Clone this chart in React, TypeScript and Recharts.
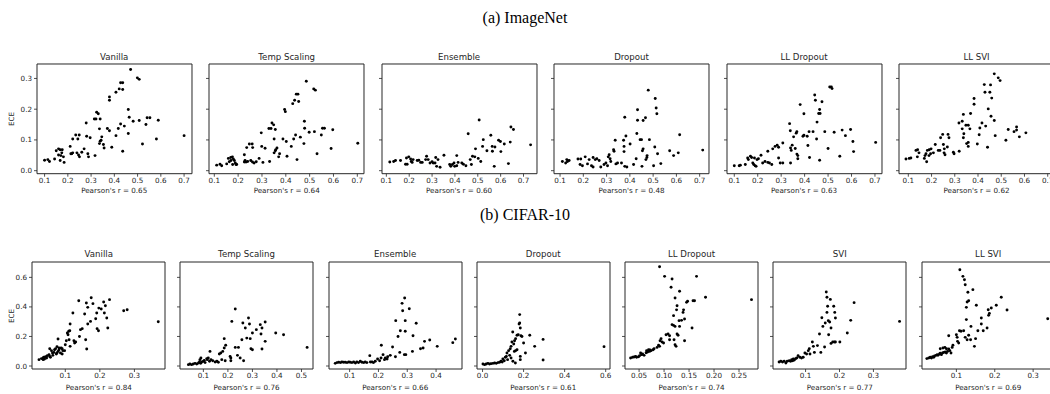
import React from 'react';
import { ScatterChart, Scatter, XAxis, YAxis, ReferenceArea } from 'recharts';

type Pt = [number, number];

// (a) ImageNet — [pearson of shift, ECE]
const imVanilla: Pt[] = [
  [0.1, 0.034], [0.114, 0.036], [0.121, 0.03], [0.143, 0.038], [0.15, 0.065], [0.16, 0.071], [0.167, 0.068],
  [0.176, 0.068], [0.16, 0.051], [0.17, 0.049], [0.174, 0.058], [0.181, 0.045], [0.184, 0.027], [0.167, 0.033],
  [0.21, 0.079], [0.213, 0.055], [0.217, 0.055], [0.221, 0.058], [0.221, 0.103], [0.234, 0.116], [0.249, 0.116],
  [0.243, 0.103], [0.239, 0.058], [0.246, 0.051], [0.25, 0.045], [0.26, 0.06], [0.27, 0.071], [0.279, 0.155],
  [0.281, 0.112], [0.286, 0.055], [0.289, 0.045], [0.296, 0.107], [0.314, 0.168], [0.321, 0.168], [0.317, 0.049],
  [0.324, 0.19], [0.331, 0.185], [0.336, 0.136], [0.339, 0.168], [0.336, 0.088], [0.339, 0.096], [0.343, 0.099],
  [0.346, 0.11], [0.353, 0.085], [0.356, 0.074], [0.37, 0.137], [0.379, 0.13], [0.379, 0.24], [0.379, 0.229],
  [0.389, 0.076], [0.407, 0.255], [0.407, 0.114], [0.417, 0.137], [0.421, 0.266], [0.427, 0.152], [0.427, 0.286],
  [0.436, 0.286], [0.436, 0.264], [0.436, 0.063], [0.443, 0.145], [0.46, 0.199], [0.46, 0.121], [0.464, 0.174],
  [0.47, 0.329], [0.481, 0.161], [0.499, 0.302], [0.507, 0.297], [0.507, 0.163], [0.521, 0.087], [0.536, 0.15],
  [0.541, 0.172], [0.553, 0.172], [0.581, 0.103], [0.589, 0.164], [0.7, 0.114],
];

const imTemp: Pt[] = [
  [0.11, 0.018], [0.124, 0.021], [0.131, 0.016], [0.152, 0.022], [0.159, 0.04], [0.169, 0.043], [0.176, 0.045],
  [0.163, 0.029], [0.17, 0.033], [0.18, 0.038], [0.184, 0.033], [0.188, 0.025], [0.191, 0.02], [0.194, 0.02],
  [0.177, 0.02], [0.226, 0.052], [0.226, 0.028], [0.233, 0.028], [0.24, 0.03], [0.229, 0.033], [0.236, 0.075],
  [0.247, 0.087], [0.259, 0.087], [0.261, 0.075], [0.253, 0.033], [0.26, 0.028], [0.267, 0.025], [0.276, 0.029],
  [0.288, 0.04], [0.297, 0.123], [0.299, 0.079], [0.304, 0.027], [0.313, 0.073], [0.329, 0.137], [0.338, 0.137],
  [0.332, 0.03], [0.342, 0.155], [0.349, 0.149], [0.356, 0.134], [0.351, 0.103], [0.351, 0.058], [0.356, 0.065],
  [0.358, 0.068], [0.363, 0.074], [0.37, 0.045], [0.374, 0.055], [0.388, 0.103], [0.395, 0.199], [0.398, 0.192],
  [0.402, 0.095], [0.405, 0.047], [0.423, 0.079], [0.429, 0.218], [0.433, 0.103], [0.437, 0.229], [0.441, 0.116],
  [0.444, 0.249], [0.451, 0.249], [0.447, 0.036], [0.454, 0.225], [0.461, 0.109], [0.476, 0.088], [0.478, 0.161],
  [0.479, 0.138], [0.486, 0.291], [0.498, 0.125], [0.517, 0.266], [0.524, 0.262], [0.52, 0.127], [0.531, 0.055],
  [0.549, 0.116], [0.554, 0.138], [0.562, 0.138], [0.59, 0.072], [0.597, 0.133], [0.702, 0.089],
];

const imEnsemble: Pt[] = [
  [0.115, 0.028], [0.132, 0.03], [0.14, 0.033], [0.162, 0.033], [0.184, 0.021], [0.191, 0.021], [0.188, 0.041],
  [0.198, 0.045], [0.206, 0.038], [0.209, 0.03], [0.213, 0.027], [0.217, 0.036], [0.235, 0.033], [0.242, 0.034],
  [0.25, 0.027], [0.257, 0.027], [0.272, 0.036], [0.276, 0.047], [0.283, 0.036], [0.291, 0.025], [0.3, 0.029],
  [0.305, 0.025], [0.313, 0.025], [0.316, 0.043], [0.326, 0.036], [0.32, 0.014], [0.335, 0.011], [0.352, 0.05],
  [0.377, 0.02], [0.382, 0.014], [0.389, 0.02], [0.396, 0.025], [0.399, 0.014], [0.408, 0.016], [0.408, 0.049],
  [0.414, 0.027], [0.43, 0.025], [0.437, 0.021], [0.448, 0.016], [0.458, 0.12], [0.467, 0.036], [0.472, 0.02],
  [0.477, 0.047], [0.487, 0.045], [0.49, 0.071], [0.502, 0.04], [0.506, 0.165], [0.513, 0.03], [0.521, 0.079],
  [0.524, 0.101], [0.54, 0.065], [0.557, 0.115], [0.563, 0.079], [0.575, 0.077], [0.564, 0.063], [0.572, 0.014],
  [0.591, 0.099], [0.599, 0.095], [0.601, 0.062], [0.616, 0.087], [0.634, 0.023], [0.642, 0.093], [0.645, 0.142],
  [0.656, 0.134], [0.731, 0.084],
];

const imDropout: Pt[] = [
  [0.11, 0.03], [0.124, 0.025], [0.132, 0.03], [0.139, 0.033], [0.129, 0.036], [0.177, 0.038], [0.189, 0.038],
  [0.186, 0.02], [0.196, 0.016], [0.208, 0.045], [0.218, 0.022], [0.225, 0.036], [0.235, 0.016], [0.242, 0.012],
  [0.242, 0.043], [0.251, 0.036], [0.258, 0.039], [0.268, 0.033], [0.275, 0.012], [0.289, 0.02], [0.297, 0.025],
  [0.304, 0.016], [0.307, 0.045], [0.311, 0.052], [0.315, 0.039], [0.318, 0.03], [0.33, 0.068], [0.332, 0.063],
  [0.34, 0.022], [0.347, 0.025], [0.337, 0.099], [0.364, 0.025], [0.373, 0.099], [0.375, 0.079], [0.375, 0.062],
  [0.378, 0.174], [0.383, 0.113], [0.378, 0.014], [0.387, 0.012], [0.401, 0.087], [0.416, 0.02], [0.427, 0.039],
  [0.43, 0.121], [0.433, 0.198], [0.433, 0.164], [0.444, 0.101], [0.45, 0.101], [0.452, 0.014], [0.454, 0.065],
  [0.457, 0.071], [0.457, 0.163], [0.467, 0.172], [0.469, 0.036], [0.473, 0.043], [0.474, 0.049], [0.479, 0.262],
  [0.484, 0.101], [0.502, 0.016], [0.507, 0.077], [0.509, 0.235], [0.513, 0.204], [0.516, 0.185], [0.519, 0.055],
  [0.533, 0.023], [0.571, 0.065], [0.588, 0.049], [0.608, 0.058], [0.614, 0.117], [0.713, 0.067],
];

const imLLDropout: Pt[] = [
  [0.1, 0.016], [0.121, 0.016], [0.126, 0.018], [0.147, 0.02], [0.157, 0.041], [0.16, 0.036], [0.169, 0.047],
  [0.174, 0.043], [0.186, 0.041], [0.179, 0.025], [0.183, 0.02], [0.189, 0.016], [0.193, 0.014], [0.197, 0.036],
  [0.203, 0.039], [0.214, 0.05], [0.221, 0.025], [0.231, 0.03], [0.243, 0.027], [0.25, 0.025], [0.26, 0.02],
  [0.243, 0.063], [0.264, 0.071], [0.274, 0.079], [0.283, 0.083], [0.289, 0.076], [0.289, 0.041], [0.296, 0.025],
  [0.307, 0.025], [0.307, 0.09], [0.336, 0.153], [0.339, 0.13], [0.34, 0.074], [0.343, 0.066], [0.34, 0.025],
  [0.347, 0.083], [0.353, 0.11], [0.36, 0.072], [0.364, 0.122], [0.367, 0.127], [0.367, 0.054], [0.371, 0.049],
  [0.371, 0.039], [0.381, 0.215], [0.393, 0.112], [0.397, 0.115], [0.397, 0.185], [0.411, 0.112], [0.414, 0.082],
  [0.419, 0.127], [0.436, 0.127], [0.421, 0.043], [0.443, 0.246], [0.446, 0.229], [0.451, 0.103], [0.453, 0.158],
  [0.46, 0.186], [0.464, 0.199], [0.466, 0.186], [0.464, 0.034], [0.474, 0.224], [0.486, 0.127], [0.5, 0.072],
  [0.507, 0.272], [0.514, 0.272], [0.517, 0.267], [0.526, 0.125], [0.55, 0.047], [0.56, 0.132], [0.574, 0.114],
  [0.596, 0.134], [0.606, 0.095], [0.609, 0.062], [0.703, 0.092],
];

const imLLSVI: Pt[] = [
  [0.09, 0.038], [0.104, 0.04], [0.111, 0.041], [0.133, 0.066], [0.14, 0.068], [0.146, 0.058], [0.139, 0.045],
  [0.169, 0.04], [0.172, 0.049], [0.176, 0.055], [0.182, 0.066], [0.19, 0.068], [0.198, 0.071], [0.179, 0.029],
  [0.189, 0.049], [0.196, 0.055], [0.208, 0.058], [0.216, 0.085], [0.229, 0.066], [0.236, 0.066], [0.239, 0.107],
  [0.248, 0.118], [0.251, 0.085], [0.255, 0.071], [0.254, 0.058], [0.258, 0.052], [0.268, 0.077], [0.271, 0.118],
  [0.275, 0.107], [0.294, 0.06], [0.297, 0.055], [0.319, 0.063], [0.318, 0.155], [0.332, 0.161], [0.337, 0.183],
  [0.332, 0.136], [0.339, 0.12], [0.337, 0.107], [0.351, 0.088], [0.358, 0.092], [0.358, 0.079], [0.348, 0.148],
  [0.358, 0.148], [0.365, 0.136], [0.368, 0.186], [0.383, 0.235], [0.383, 0.216], [0.397, 0.087], [0.405, 0.117],
  [0.408, 0.139], [0.417, 0.155], [0.427, 0.28], [0.43, 0.255], [0.433, 0.145], [0.441, 0.076], [0.444, 0.201],
  [0.451, 0.255], [0.454, 0.279], [0.456, 0.177], [0.459, 0.236], [0.47, 0.163], [0.474, 0.114], [0.47, 0.315],
  [0.487, 0.302], [0.495, 0.293], [0.52, 0.099], [0.53, 0.134], [0.555, 0.127], [0.566, 0.132], [0.566, 0.142],
  [0.578, 0.11], [0.606, 0.123], [0.72, 0.085],
];

// (b) CIFAR-10
const cfVanilla: Pt[] = [
  [0.024, 0.043], [0.031, 0.05], [0.036, 0.054], [0.038, 0.059], [0.043, 0.063], [0.046, 0.054], [0.036, 0.043],
  [0.04, 0.047], [0.048, 0.07], [0.053, 0.077], [0.055, 0.065], [0.057, 0.059], [0.055, 0.117], [0.06, 0.104],
  [0.063, 0.088], [0.064, 0.072], [0.067, 0.092], [0.069, 0.11], [0.072, 0.117], [0.074, 0.081], [0.076, 0.088],
  [0.079, 0.099], [0.082, 0.11], [0.076, 0.131], [0.082, 0.122], [0.079, 0.183], [0.086, 0.088], [0.088, 0.122],
  [0.091, 0.117], [0.093, 0.104], [0.091, 0.081], [0.098, 0.104], [0.1, 0.144], [0.103, 0.171], [0.106, 0.223],
  [0.108, 0.212], [0.11, 0.235], [0.113, 0.239], [0.111, 0.178], [0.114, 0.133], [0.114, 0.284], [0.122, 0.359],
  [0.125, 0.171], [0.127, 0.156], [0.13, 0.162], [0.139, 0.442], [0.141, 0.2], [0.144, 0.246], [0.149, 0.253],
  [0.156, 0.352], [0.159, 0.178], [0.161, 0.426], [0.162, 0.115], [0.165, 0.397], [0.165, 0.284], [0.173, 0.302],
  [0.175, 0.462], [0.18, 0.422], [0.188, 0.32], [0.191, 0.359], [0.197, 0.392], [0.192, 0.253], [0.196, 0.239],
  [0.204, 0.386], [0.211, 0.433], [0.213, 0.359], [0.216, 0.408], [0.22, 0.325], [0.223, 0.257], [0.228, 0.449],
  [0.269, 0.374], [0.279, 0.381], [0.369, 0.3],
];

const cfTemp: Pt[] = [
  [0.039, 0.009], [0.045, 0.014], [0.052, 0.009], [0.059, 0.014], [0.066, 0.018], [0.073, 0.014], [0.08, 0.02],
  [0.084, 0.027], [0.089, 0.018], [0.093, 0.027], [0.086, 0.043], [0.09, 0.054], [0.1, 0.032], [0.104, 0.038],
  [0.107, 0.023], [0.114, 0.05], [0.116, 0.043], [0.12, 0.054], [0.125, 0.032], [0.127, 0.099], [0.131, 0.043],
  [0.138, 0.036], [0.148, 0.027], [0.155, 0.032], [0.161, 0.025], [0.165, 0.081], [0.171, 0.088], [0.179, 0.099],
  [0.175, 0.043], [0.185, 0.185], [0.185, 0.122], [0.191, 0.14], [0.189, 0.036], [0.209, 0.065], [0.212, 0.054],
  [0.212, 0.036], [0.216, 0.302], [0.23, 0.386], [0.23, 0.126], [0.239, 0.072], [0.243, 0.126], [0.25, 0.054],
  [0.257, 0.178], [0.261, 0.291], [0.264, 0.036], [0.271, 0.257], [0.277, 0.189], [0.284, 0.325], [0.288, 0.284],
  [0.291, 0.185], [0.294, 0.117], [0.3, 0.11], [0.3, 0.223], [0.316, 0.246], [0.332, 0.28], [0.335, 0.217],
  [0.339, 0.257], [0.339, 0.115], [0.352, 0.167], [0.352, 0.298], [0.395, 0.223], [0.427, 0.212], [0.523, 0.126],
];

const cfEnsemble: Pt[] = [
  [0.05, 0.018], [0.056, 0.023], [0.062, 0.025], [0.068, 0.023], [0.073, 0.027], [0.079, 0.025], [0.085, 0.025],
  [0.091, 0.023], [0.097, 0.027], [0.102, 0.025], [0.108, 0.023], [0.114, 0.027], [0.12, 0.02], [0.125, 0.027],
  [0.131, 0.023], [0.137, 0.032], [0.143, 0.025], [0.149, 0.023], [0.154, 0.027], [0.16, 0.023], [0.17, 0.07],
  [0.172, 0.027], [0.178, 0.027], [0.183, 0.023], [0.189, 0.032], [0.197, 0.047], [0.204, 0.036], [0.209, 0.054],
  [0.21, 0.14], [0.216, 0.077], [0.221, 0.043], [0.224, 0.054], [0.23, 0.047], [0.232, 0.063], [0.241, 0.072],
  [0.249, 0.129], [0.259, 0.063], [0.26, 0.307], [0.268, 0.2], [0.274, 0.092], [0.276, 0.239], [0.282, 0.424],
  [0.284, 0.374], [0.29, 0.077], [0.295, 0.077], [0.291, 0.46], [0.293, 0.307], [0.293, 0.235], [0.307, 0.388],
  [0.318, 0.099], [0.32, 0.205], [0.331, 0.289], [0.346, 0.117], [0.355, 0.122], [0.36, 0.167], [0.378, 0.176],
  [0.404, 0.133], [0.458, 0.158], [0.467, 0.183],
];

const cfDropout: Pt[] = [
  [0.002, 0.014], [0.01, 0.009], [0.018, 0.014], [0.026, 0.018], [0.034, 0.014], [0.042, 0.016], [0.051, 0.018],
  [0.059, 0.02], [0.067, 0.018], [0.075, 0.023], [0.083, 0.025], [0.09, 0.032], [0.096, 0.027], [0.099, 0.047],
  [0.106, 0.036], [0.111, 0.059], [0.116, 0.065], [0.119, 0.088], [0.122, 0.043], [0.127, 0.104], [0.132, 0.072],
  [0.135, 0.117], [0.139, 0.133], [0.143, 0.162], [0.147, 0.23], [0.139, 0.054], [0.148, 0.032], [0.152, 0.149],
  [0.156, 0.171], [0.161, 0.185], [0.168, 0.208], [0.174, 0.212], [0.155, 0.099], [0.161, 0.104], [0.168, 0.11],
  [0.16, 0.02], [0.178, 0.284], [0.181, 0.291], [0.184, 0.257], [0.181, 0.348], [0.187, 0.205], [0.192, 0.2],
  [0.184, 0.065], [0.184, 0.043], [0.2, 0.156], [0.209, 0.088], [0.23, 0.208], [0.254, 0.133], [0.295, 0.18],
  [0.295, 0.041], [0.592, 0.131],
];

const cfLLDropout: Pt[] = [
  [0.033, 0.054], [0.037, 0.059], [0.04, 0.061], [0.043, 0.065], [0.045, 0.059], [0.049, 0.063], [0.051, 0.07],
  [0.053, 0.088], [0.055, 0.077], [0.057, 0.081], [0.06, 0.072], [0.064, 0.09], [0.067, 0.095], [0.071, 0.099],
  [0.074, 0.104], [0.078, 0.11], [0.08, 0.117], [0.065, 0.104], [0.069, 0.11], [0.072, 0.108], [0.086, 0.126],
  [0.089, 0.14], [0.091, 0.133], [0.092, 0.171], [0.094, 0.185], [0.096, 0.162], [0.099, 0.156], [0.091, 0.672],
  [0.101, 0.607], [0.104, 0.212], [0.108, 0.217], [0.111, 0.205], [0.111, 0.178], [0.114, 0.533], [0.116, 0.589],
  [0.116, 0.28], [0.119, 0.275], [0.122, 0.268], [0.12, 0.178], [0.122, 0.144], [0.124, 0.133], [0.122, 0.46],
  [0.119, 0.341], [0.125, 0.38], [0.126, 0.408], [0.126, 0.217], [0.128, 0.208], [0.13, 0.307], [0.131, 0.506],
  [0.131, 0.268], [0.135, 0.309], [0.138, 0.363], [0.141, 0.318], [0.139, 0.38], [0.141, 0.171], [0.145, 0.431],
  [0.147, 0.438], [0.156, 0.257], [0.158, 0.442], [0.161, 0.442], [0.165, 0.607], [0.183, 0.465], [0.275, 0.449],
];

const cfSVI: Pt[] = [
  [0.022, 0.027], [0.027, 0.032], [0.032, 0.027], [0.037, 0.032], [0.042, 0.02], [0.046, 0.032], [0.052, 0.036],
  [0.056, 0.032], [0.059, 0.043], [0.062, 0.036], [0.064, 0.047], [0.067, 0.041], [0.071, 0.05], [0.074, 0.054],
  [0.078, 0.07], [0.083, 0.059], [0.088, 0.054], [0.093, 0.059], [0.098, 0.088], [0.103, 0.081], [0.108, 0.104],
  [0.111, 0.117], [0.113, 0.081], [0.12, 0.162], [0.123, 0.133], [0.126, 0.092], [0.135, 0.138], [0.141, 0.217],
  [0.145, 0.092], [0.148, 0.327], [0.151, 0.268], [0.156, 0.129], [0.158, 0.291], [0.161, 0.501], [0.163, 0.465],
  [0.163, 0.363], [0.165, 0.404], [0.167, 0.307], [0.168, 0.212], [0.171, 0.298], [0.173, 0.451], [0.175, 0.257],
  [0.175, 0.153], [0.18, 0.162], [0.185, 0.162], [0.188, 0.162], [0.183, 0.404], [0.186, 0.363], [0.188, 0.325],
  [0.201, 0.162], [0.223, 0.223], [0.233, 0.309], [0.243, 0.429], [0.377, 0.302],
];

const cfLLSVI: Pt[] = [
  [0.023, 0.05], [0.028, 0.054], [0.032, 0.059], [0.035, 0.054], [0.038, 0.063], [0.041, 0.059], [0.043, 0.068],
  [0.047, 0.072], [0.05, 0.077], [0.052, 0.072], [0.056, 0.081], [0.058, 0.086], [0.061, 0.077], [0.064, 0.088],
  [0.067, 0.092], [0.071, 0.095], [0.074, 0.088], [0.058, 0.117], [0.065, 0.122], [0.07, 0.126], [0.074, 0.117],
  [0.077, 0.099], [0.08, 0.115], [0.083, 0.104], [0.086, 0.088], [0.08, 0.205], [0.089, 0.126], [0.091, 0.14],
  [0.1, 0.212], [0.102, 0.194], [0.103, 0.167], [0.106, 0.156], [0.109, 0.652], [0.108, 0.239], [0.112, 0.235],
  [0.117, 0.607], [0.121, 0.584], [0.123, 0.55], [0.119, 0.239], [0.123, 0.194], [0.128, 0.178], [0.126, 0.314],
  [0.126, 0.397], [0.128, 0.433], [0.132, 0.442], [0.13, 0.499], [0.132, 0.208], [0.137, 0.178], [0.138, 0.268],
  [0.143, 0.517], [0.147, 0.133], [0.15, 0.185], [0.152, 0.411], [0.156, 0.239], [0.165, 0.325], [0.165, 0.284],
  [0.17, 0.239], [0.18, 0.257], [0.183, 0.381], [0.184, 0.343], [0.186, 0.356], [0.191, 0.393], [0.204, 0.411],
  [0.217, 0.465], [0.232, 0.379], [0.338, 0.32],
];

const ticksA = [0.1, 0.2, 0.3, 0.4, 0.5, 0.6, 0.7];

interface RowSpec {
  top: number;
  height: number;
  width: number;
  yDomain: [number, number];
  yTicks: number[];
  titleY: number;
  labelY: number;
  eceX: number;
}

interface PanelSpec {
  title: string;
  r: string;
  data: Pt[];
  left: number;
  xDomain: [number, number];
  xTicks: number[];
  digits: number;
}

const rowA: RowSpec = {
  top: 64.3, height: 109.7, width: 155, yDomain: [-0.0098, 0.347], yTicks: [0, 0.1, 0.2, 0.3],
  titleY: 57.3, labelY: 190.7, eceX: 11.7,
};
const rowB: RowSpec = {
  top: 262.3, height: 107, width: 133, yDomain: [-0.0203, 0.704], yTicks: [0, 0.2, 0.4, 0.6],
  titleY: 254.3, labelY: 388.3, eceX: 11.7,
};

const panelsA: PanelSpec[] = [
  { title: 'Vanilla', r: '0.65', data: imVanilla, left: 36.7, xDomain: [0.0674, 0.734], xTicks: ticksA, digits: 1 },
  { title: 'Temp Scaling', r: '0.64', data: imTemp, left: 209.2, xDomain: [0.0778, 0.728], xTicks: ticksA, digits: 1 },
  { title: 'Ensemble', r: '0.60', data: imEnsemble, left: 381.6, xDomain: [0.081, 0.759], xTicks: ticksA, digits: 1 },
  { title: 'Dropout', r: '0.48', data: imDropout, left: 554, xDomain: [0.074, 0.74], xTicks: ticksA, digits: 1 },
  { title: 'LL Dropout', r: '0.63', data: imLLDropout, left: 726.5, xDomain: [0.069, 0.73], xTicks: ticksA, digits: 1 },
  { title: 'LL SVI', r: '0.62', data: imLLSVI, left: 899, xDomain: [0.06, 0.727], xTicks: ticksA, digits: 1 },
];

const panelsB: PanelSpec[] = [
  { title: 'Vanilla', r: '0.84', data: cfVanilla, left: 32.3, xDomain: [0.0037, 0.3885], xTicks: [0.1, 0.2, 0.3], digits: 1 },
  { title: 'Temp Scaling', r: '0.76', data: cfTemp, left: 180, xDomain: [0.0047, 0.547], xTicks: [0.1, 0.2, 0.3, 0.4, 0.5], digits: 1 },
  { title: 'Ensemble', r: '0.66', data: cfEnsemble, left: 328.7, xDomain: [0.0284, 0.49], xTicks: [0.1, 0.2, 0.3, 0.4], digits: 1 },
  { title: 'Dropout', r: '0.61', data: cfDropout, left: 476.7, xDomain: [-0.027, 0.621], xTicks: [0, 0.2, 0.4, 0.6], digits: 1 },
  { title: 'LL Dropout', r: '0.74', data: cfLLDropout, left: 625, xDomain: [0.0218, 0.288], xTicks: [0.05, 0.1, 0.15, 0.2, 0.25], digits: 2 },
  { title: 'SVI', r: '0.77', data: cfSVI, left: 773.3, xDomain: [0.004, 0.396], xTicks: [0.1, 0.2, 0.3], digits: 1 },
  { title: 'LL SVI', r: '0.69', data: cfLLSVI, left: 921.7, xDomain: [0.0104, 0.357], xTicks: [0.1, 0.2, 0.3], digits: 1 },
];

const INK = '#262626';
const SANS = '"DejaVu Sans", sans-serif';
const YW = 30;

const Dot = (props: any) => <circle cx={props.cx} cy={props.cy} r={1.45} fill="#000" />;

function Panel({ spec, row, first }: { spec: PanelSpec; row: RowSpec; first: boolean }) {
  const pts = spec.data.map(([x, y]) => ({ x, y }));
  const centerX = spec.left + row.width / 2;
  const textStyle: React.CSSProperties = {
    position: 'absolute',
    transform: 'translate(-50%, -50%)',
    whiteSpace: 'nowrap',
    fontFamily: SANS,
    color: INK,
    lineHeight: 1,
  };
  return (
    <>
      <div style={{ ...textStyle, left: centerX, top: row.titleY, fontSize: 8.6 }}>{spec.title}</div>
      <div style={{ ...textStyle, left: centerX, top: row.labelY, fontSize: 7.2 }}>Pearson's r = {spec.r}</div>
      {first && (
        <div
          style={{
            ...textStyle,
            left: row.eceX,
            top: row.top + row.height / 2,
            fontSize: 7.2,
            transform: 'translate(-50%, -50%) rotate(-90deg)',
          }}
        >
          ECE
        </div>
      )}
      <div style={{ position: 'absolute', left: spec.left - YW, top: row.top - 2 }}>
        <ScatterChart
          width={row.width + YW + 2}
          height={row.height + 2 + 14}
          margin={{ top: 2, right: 2, bottom: 0, left: 0 }}
        >
          <XAxis
            type="number"
            dataKey="x"
            domain={spec.xDomain}
            ticks={spec.xTicks}
            interval={0}
            allowDataOverflow
            height={14}
            tickSize={3}
            tickMargin={1}
            axisLine={false}
            tickLine={{ stroke: INK, strokeWidth: 0.8 }}
            tick={{ fontSize: 7.2, fill: INK, fontFamily: SANS }}
            tickFormatter={(v: number) => v.toFixed(spec.digits)}
          />
          <YAxis
            type="number"
            dataKey="y"
            domain={row.yDomain}
            ticks={row.yTicks}
            interval={0}
            allowDataOverflow
            width={YW}
            tickSize={3}
            tickMargin={2}
            axisLine={false}
            tickLine={{ stroke: INK, strokeWidth: 0.8 }}
            tick={{ fontSize: 7.2, fill: INK, fontFamily: SANS }}
            tickFormatter={(v: number) => (first ? v.toFixed(1) : '')}
          />
          <ReferenceArea
            x1={spec.xDomain[0]}
            x2={spec.xDomain[1]}
            y1={row.yDomain[0]}
            y2={row.yDomain[1]}
            fill="none"
            stroke={INK}
            strokeWidth={1}
          />
          <Scatter data={pts} isAnimationActive={false} shape={Dot} />
        </ScatterChart>
      </div>
    </>
  );
}

export default function App() {
  const headStyle: React.CSSProperties = {
    position: 'absolute',
    left: 525,
    transform: 'translate(-50%, -50%)',
    fontFamily: '"Liberation Serif", "Times New Roman", serif',
    fontSize: 16,
    whiteSpace: 'nowrap',
    lineHeight: 1,
    color: '#000',
  };
  return (
    <div
      style={{
        position: 'absolute',
        left: 0,
        top: 0,
        width: 1050,
        height: 394,
        overflow: 'hidden',
        background: '#fff',
      }}
    >
      <div style={{ ...headStyle, top: 18 }}>(a) ImageNet</div>
      <div style={{ ...headStyle, top: 215 }}>(b) CIFAR-10</div>
      {panelsA.map((p, i) => (
        <Panel key={'a' + i} spec={p} row={rowA} first={i === 0} />
      ))}
      {panelsB.map((p, i) => (
        <Panel key={'b' + i} spec={p} row={rowB} first={i === 0} />
      ))}
    </div>
  );
}
